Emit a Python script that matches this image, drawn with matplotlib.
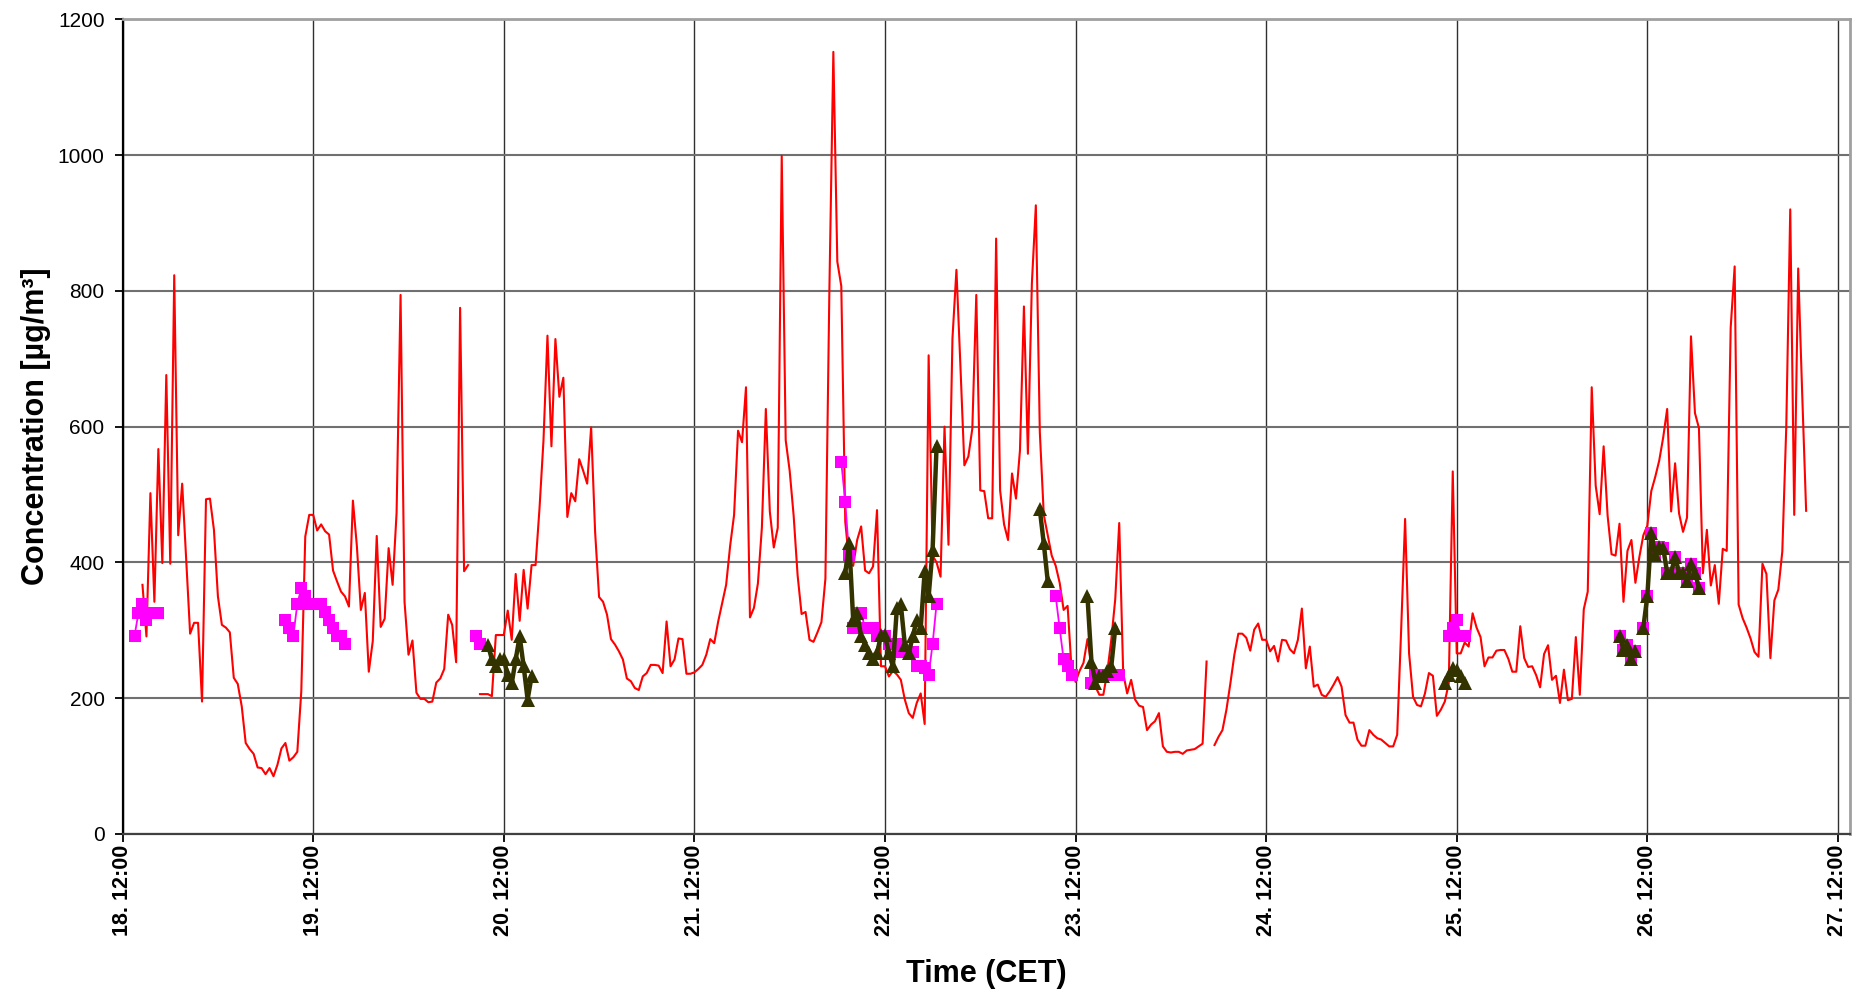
import numpy as np
import matplotlib
matplotlib.use("Agg")
import matplotlib.pyplot as plt
from matplotlib.ticker import FixedLocator, FuncFormatter

plt.rcParams['font.family'] = ['Liberation Sans', 'DejaVu Sans']

nan = np.nan

# continuous monitor, half-hourly values starting 18. 14:30
red_start_h = 2.5
red_v = [
    367, 291, 502, 342, 567, 399, 676, 398, 823, 440, 516, 405, 295, 311, 311, 195,   # 18. 14:30
    493, 494, 448, 350, 308, 304, 297, 230, 221, 188, 134, 125, 118, 98, 97, 88,
    97, 85, 102, 126, 134, 108, 113, 121, 210, 438, 470, 470, 447, 456, 446, 441,     # 19. 06:30
    388, 372, 357, 350, 335, 491, 424, 330, 355, 239, 284, 439, 305, 317, 421, 367,
    473, 794, 342, 264, 285, 208, 199, 199, 194, 195, 223, 229, 243, 323, 308, 253,   # 19. 22:30
    775, 387, 396, nan, nan, 206, 206, 206, 203, 293, 293, 293, 329, 286, 383, 314,
    389, 332, 396, 396, 480, 580, 734, 571, 729, 644, 672, 467, 502, 490, 552, 535,   # 20. 14:30
    516, 599, 445, 349, 342, 323, 287, 279, 269, 257, 229, 225, 215, 212, 232, 237,
    249, 249, 248, 237, 313, 247, 257, 288, 287, 236, 236, 238, 243, 249, 264, 287,   # 21. 06:30
    281, 313, 340, 367, 424, 470, 594, 577, 658, 319, 333, 369, 451, 626, 475, 422,
    451, 999, 580, 535, 469, 381, 324, 327, 286, 283, 297, 312, 376, 800, 1152, 843,  # 21. 22:30
    807, 460, 400, 395, 433, 453, 388, 384, 394, 477, 247, 247, 232, 240, 235, 227,
    198, 178, 171, 193, 207, 162, 705, 410, 400, 379, 600, 426, 730, 831, 690, 543,   # 22. 14:30
    556, 597, 794, 506, 505, 465, 465, 877, 506, 456, 433, 531, 494, 565, 777, 560,
    811, 926, 592, 470, 440, 410, 395, 370, 330, 336, 242, 224, 240, 252, 287, 248,   # 23. 06:30
    217, 205, 205, 239, 286, 346, 458, 237, 207, 227, 198, 189, 187, 153, 161, 166,
    178, 129, 121, 120, 121, 121, 118, 123, 124, 125, 129, 133, 254, nan, 131, 143,   # 23. 22:30
    153, 183, 222, 264, 295, 295, 289, 270, 301, 310, 286, 286, 269, 277, 254, 286,
    285, 272, 266, 286, 332, 244, 276, 217, 220, 205, 202, 210, 220, 231, 217, 175,   # 24. 14:30
    164, 164, 139, 130, 130, 153, 146, 141, 139, 134, 129, 129, 146, 300, 464, 266,
    202, 190, 188, 207, 237, 233, 174, 183, 195, 222, 534, 266, 266, 282, 276, 325,   # 25. 06:30
    304, 290, 247, 260, 260, 270, 271, 271, 258, 239, 239, 306, 259, 246, 247, 234,
    216, 265, 278, 227, 233, 193, 242, 197, 199, 290, 205, 331, 357, 658, 513, 471,   # 25. 22:30
    571, 469, 412, 410, 457, 342, 417, 433, 370, 408, 440, 454, 505, 526, 550, 584,
    626, 475, 546, 472, 445, 466, 733, 620, 598, 384, 448, 366, 396, 339, 420, 417,   # 26. 14:30
    746, 836, 338, 318, 304, 288, 268, 261, 398, 383, 259, 344, 360, 416, 600, 920,
    470, 833, 650, 476,
]

# sampler A (magenta squares), hours after 18. 12:00
sq_h = [1.5, 2.0, 2.5, 3.0, 3.5, 4.0, 4.5, nan,
        20.5, 21.0, 21.5, 22.0, 22.5, 23.0, 23.5, 24.0, 24.5, 25.0, 25.5, 26.0, 26.5, 27.0, 27.5, 28.0, nan,
        44.5, 45.0, nan,
        90.5, 91.0, 91.5, 92.0, 92.5, 93.0, 93.5, 94.0, 94.5, 95.0, 95.5, 96.0, 96.5,
        97.0, 97.5, 98.0, 98.5, 99.0, 99.5, 100.0, 100.5, 101.0, 101.5, 102.0, 102.5, nan,
        117.5, 118.0, 118.5, 119.0, 119.5, nan,
        122.0, 122.5, 123.0, 123.5, 124.0, 124.5, 125.0, 125.5, nan,
        167.0, 167.5, 168.0, 168.5, 169.0, nan,
        188.5, 189.0, 189.5, 190.0, 190.5, nan,
        191.5, 192.0, 192.5, 193.0, 193.5, 194.0, 194.5, 195.0, 195.5, 196.0, 196.5, 197.0, 197.5, 198.0, 198.5]
sq_v = [292, 326, 339, 315, 326, 326, 326, nan,
        315, 303, 292, 339, 362, 351, 339, 339, 339, 339, 327, 315, 304, 292, 292, 280, nan,
        292, 280, nan,
        548, 489, 409, 303, 326, 326, 303, 303, 303, 292, 292, 292, 280,
        280, 280, 268, 268, 268, 268, 247, 247, 245, 234, 280, 339, nan,
        350, 303, 257, 247, 234, nan,
        222, 234, 234, 234, 234, 234, 234, 234, nan,
        292, 303, 315, 292, 292, nan,
        292, 271, 279, 257, 269, nan,
        304, 350, 444, 411, 422, 421, 385, 385, 408, 385, 385, 373, 397, 385, 362]

# sampler B (dark triangles), hours after 18. 12:00
tri_h = [46.0, 46.5, 47.0, 47.5, 48.0, 48.5, 49.0, 49.5, 50.0, 50.5, 51.0, 51.5, nan,
         91.0, 91.5, 92.0, 92.5, 93.0, 93.5, 94.0, 94.5, 95.0, 95.5, 96.0, 96.5,
         97.0, 97.5, 98.0, 98.5, 99.0, 99.5, 100.0, 100.5, 101.0, 101.5, 102.0, 102.5, nan,
         115.5, 116.0, 116.5, nan,
         121.5, 122.0, 122.5, 123.0, 123.5, 124.0, 124.5, 125.0, nan,
         166.5, 167.0, 167.5, 168.0, 168.5, 169.0, nan,
         188.5, 189.0, 189.5, 190.0, 190.5, nan,
         191.5, 192.0, 192.5, 193.0, 193.5, 194.0, 194.5, 195.0, 195.5, 196.0, 196.5, 197.0, 197.5, 198.0, 198.5]
tri_v = [279, 257, 247, 257, 257, 234, 222, 257, 291, 247, 198, 232, nan,
         384, 429, 315, 325, 291, 279, 266, 257, 266, 293, 293, 266,
         247, 333, 338, 279, 266, 291, 315, 303, 387, 350, 419, 571, nan,
         478, 428, 372, nan,
         350, 254, 223, 233, 233, 240, 247, 303, nan,
         223, 234, 244, 242, 232, 222, nan,
         292, 271, 279, 257, 269, nan,
         304, 350, 444, 411, 422, 421, 385, 385, 408, 385, 385, 373, 397, 385, 362]

day_ticks = [18, 19, 20, 21, 22, 23, 24, 25, 26, 27]


def to_day(hours):
    # hours after 18. 12:00 -> fractional day of month
    return 18.5 + np.asarray(hours, dtype=float) / 24.0


red_h = red_start_h + 0.5 * np.arange(len(red_v))

fig = plt.figure(figsize=(18.55, 9.94), dpi=100)
ax = fig.add_axes([0.0661, 0.161, 0.9311, 0.8196])

ax.plot(to_day(red_h), red_v, color='#ff0000', lw=1.5, zorder=3)
ax.plot(to_day(sq_h), sq_v, color='#ff00ff', lw=1.3, marker='s', ms=8,
        markeredgewidth=0, zorder=4)
ax.plot(to_day(tri_h), tri_v, color='#333300', lw=3.2, marker='^', ms=9.5,
        markeredgewidth=0, zorder=5)

ax.set_xlim(18.5, 27.5 + 1.5 / 24)
ax.set_ylim(0, 1200)
ax.set_yticks(range(0, 1201, 200))
ax.xaxis.set_major_locator(FixedLocator([d + 0.5 for d in day_ticks]))
ax.xaxis.set_major_formatter(FuncFormatter(lambda x, pos: f"{int(x)}. 12:00"))

ax.yaxis.grid(True, color='#707070', lw=1.5, zorder=0)
ax.xaxis.grid(True, color='#303030', lw=1.0, zorder=0)
ax.set_axisbelow(True)

for s in ['top', 'right']:
    ax.spines[s].set_color('#a0a0a0')
    ax.spines[s].set_linewidth(2)
ax.spines['left'].set_color('black')
ax.spines['left'].set_linewidth(1.6)
ax.spines['bottom'].set_color('#404040')
ax.spines['bottom'].set_linewidth(1.6)

ax.tick_params(axis='y', direction='out', length=6, width=1.3, pad=7, labelsize=15)
ax.tick_params(axis='x', direction='out', length=6, width=1.3, pad=1.5, labelsize=15.5,
               labelrotation=90)
for lab in ax.get_xticklabels():
    lab.set_fontweight('bold')

ax.set_ylabel('Concentration [µg/m³]', fontsize=22, fontweight='bold', labelpad=5)
ax.set_xlabel('Time (CET)', fontsize=22, fontweight='bold', labelpad=17)

fig.savefig('out.png', dpi=100)
